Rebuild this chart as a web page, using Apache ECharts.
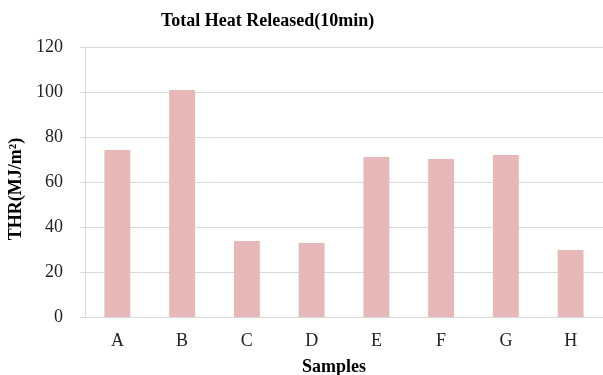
<!DOCTYPE html>
<html>
<head>
<meta charset="utf-8">
<script src="https://cdn.jsdelivr.net/npm/echarts@6/dist/echarts.min.js"></script>
<style>
html, body { margin: 0; padding: 0; background: #fff; }
#chart { width: 603px; height: 375px; }
</style>
</head>
<body>
<div id="chart"></div>
<script>
const samples = ['A', 'B', 'C', 'D', 'E', 'F', 'G', 'H']
const thr = [74.2, 100.9, 33.8, 32.9, 71.1, 70.2, 72.0, 29.8]

const chart = echarts.init(document.getElementById('chart'))
const serif = '"Liberation Serif", "Times New Roman", serif'
chart.setOption({
  animation: false,
  title: {
    text: 'Total Heat Released(10min)',
    left: 156,
    top: 7,
    textStyle: { fontFamily: serif, fontSize: 18, fontWeight: 'bold', color: '#000' }
  },
  grid: { left: 85, right: 0, top: 47, bottom: 58, outerBoundsMode: 'none' },
  xAxis: {
    type: 'category',
    data: samples,
    name: 'Samples',
    nameLocation: 'middle',
    nameGap: 41,
    nameTextStyle: { fontFamily: serif, fontSize: 18, fontWeight: 'bold', color: '#000', padding: [0, 20, 0, 0] },
    axisLine: { lineStyle: { color: '#d9d9d9', width: 1 } },
    axisTick: { show: false },
    axisLabel: { fontFamily: serif, fontSize: 18, color: '#222', margin: 15 }
  },
  yAxis: {
    type: 'value',
    min: 0,
    max: 120,
    interval: 20,
    name: 'THR(MJ/m²)',
    nameLocation: 'middle',
    nameGap: 57,
    nameTextStyle: { fontFamily: serif, fontSize: 18, fontWeight: 'bold', color: '#000', padding: [0, 14, 0, 0] },
    axisLine: { show: true, lineStyle: { color: '#d9d9d9', width: 1 } },
    axisTick: { show: true, length: 5, lineStyle: { color: '#d9d9d9' } },
    axisLabel: { fontFamily: serif, fontSize: 18, color: '#222', margin: 22 },
    splitLine: { lineStyle: { color: '#d9d9d9', width: 1 } }
  },
  series: [{
    type: 'bar',
    data: thr,
    barWidth: '40%',
    itemStyle: { color: '#e6b9b8' }
  }]
})
</script>
</body>
</html>
